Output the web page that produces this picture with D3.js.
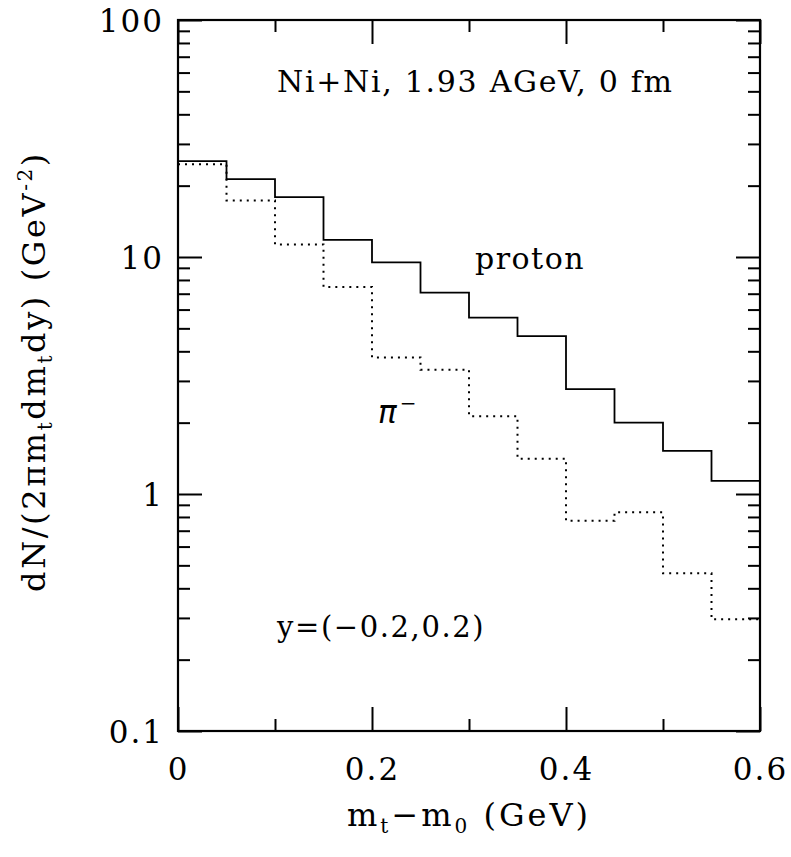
<!DOCTYPE html>
<html>
  <head>
    <meta charset="utf-8" />
    <title>Ni+Ni mt spectra</title>
    <script src="https://d3js.org/d3.v7.min.js"></script>
    <style>
      body { margin: 0; background: #fff; }
      text { font-family: "DejaVu Serif", serif; fill: #000; }
    </style>
  </head>
  <body>
    <svg width="791" height="857"></svg>

    <script>
      // Data: lower edge of each mt-m0 bin (GeV), bin width 0.05
      var binLow = [0, 0.05, 0.1, 0.15, 0.2, 0.25, 0.3, 0.35, 0.4, 0.45, 0.5, 0.55];
      var binWidth = 0.05;
      var proton = [25.4, 21.3, 17.9, 11.8, 9.5, 7.07, 5.55, 4.64, 2.77, 2.0, 1.52, 1.135];
      var pion = [24.6, 17.3, 11.3, 7.47, 3.77, 3.34, 2.13, 1.41, 0.771, 0.837, 0.463, 0.296];

      var xTicks = [0, 0.2, 0.4, 0.6];
      var xMinor = [0.1, 0.3, 0.5];
      var yTicks = [0.1, 1, 10, 100];
      var yTickLabels = ["0.1", "1", "10", "100"];

      var svg = d3.select("svg");

      var margin = { top: 20, right: 31, bottom: 126, left: 178 },
        width = +svg.attr("width") - margin.left - margin.right,
        height = +svg.attr("height") - margin.top - margin.bottom;

      var x = d3.scaleLinear().domain([0, 0.6]).range([0, width]);
      var y = d3.scaleLog().domain([0.1, 100]).range([height, 0]);

      var g = svg.append("g").attr("transform", "translate(" + margin.left + "," + margin.top + ")");

      // minor log ticks 2..9 in each decade
      var yMinor = [];
      [0.1, 1, 10].forEach(function (d) {
        for (var k = 2; k <= 9; k++) yMinor.push(d * k);
      });

      function styleAxis(sel) {
        sel.select(".domain").remove();
        sel.selectAll(".tick line").attr("stroke", "#000").attr("stroke-width", 2);
        sel.selectAll("text").style("font-size", "31px").attr("letter-spacing", "2px");
      }

      // y axis left (labels) + right
      g.append("g")
        .call(d3.axisLeft(y).tickValues(yTicks).tickSize(-24).tickPadding(14)
          .tickFormat(function (d, i) { return yTickLabels[i]; }))
        .call(styleAxis)
        .selectAll("text").attr("dy", "0.36em");
      g.append("g")
        .call(d3.axisLeft(y).tickValues(yMinor).tickSize(-12).tickFormat(""))
        .call(styleAxis);
      g.append("g").attr("transform", "translate(" + width + ",0)")
        .call(d3.axisRight(y).tickValues(yTicks).tickSize(-24).tickFormat(""))
        .call(styleAxis);
      g.append("g").attr("transform", "translate(" + width + ",0)")
        .call(d3.axisRight(y).tickValues(yMinor).tickSize(-12).tickFormat(""))
        .call(styleAxis);

      // x axis bottom (labels) + top
      g.append("g").attr("transform", "translate(0," + height + ")")
        .call(d3.axisBottom(x).tickValues(xTicks).tickSize(-24).tickPadding(27)
          .tickFormat(function (d) { return d === 0 ? "0" : d3.format(".1f")(d); }))
        .call(styleAxis);
      g.append("g").attr("transform", "translate(0," + height + ")")
        .call(d3.axisBottom(x).tickValues(xMinor).tickSize(-12).tickFormat(""))
        .call(styleAxis);
      g.append("g")
        .call(d3.axisTop(x).tickValues(xTicks).tickSize(-24).tickFormat(""))
        .call(styleAxis);
      g.append("g")
        .call(d3.axisTop(x).tickValues(xMinor).tickSize(-12).tickFormat(""))
        .call(styleAxis);

      // frame
      g.append("rect")
        .attr("width", width).attr("height", height)
        .attr("fill", "none").attr("stroke", "#000").attr("stroke-width", 2.2);

      // histograms as step lines
      function steps(vals) {
        var pts = binLow.map(function (b, i) { return [b, vals[i]]; });
        pts.push([binLow[binLow.length - 1] + binWidth, vals[vals.length - 1]]);
        return pts;
      }
      var line = d3.line()
        .x(function (d) { return x(d[0]); })
        .y(function (d) { return y(d[1]); })
        .curve(d3.curveStepAfter);

      g.append("path").datum(steps(proton))
        .attr("d", line).attr("fill", "none")
        .attr("stroke", "#000").attr("stroke-width", 1.8);
      g.append("path").datum(steps(pion))
        .attr("d", line).attr("fill", "none")
        .attr("stroke", "#000").attr("stroke-width", 2)
        .attr("stroke-dasharray", "2,5");

      // annotations
      g.append("text").attr("x", 99).attr("y", 72)
        .style("font-size", "30px").attr("letter-spacing", "1.7px")
        .text("Ni+Ni, 1.93 AGeV, 0 fm");
      g.append("text").attr("x", 297).attr("y", 249)
        .style("font-size", "30px").attr("letter-spacing", "1.5px").text("proton");
      var pi = g.append("text").attr("x", 200).attr("y", 403)
        .style("font-size", "31px");
      pi.append("tspan").style("font-family", "'DejaVu Sans', sans-serif")
        .style("font-style", "italic").text("π");
      pi.append("tspan").attr("dx", 3).attr("dy", "-13").style("font-size", "20px").text("−");
      g.append("text").attr("x", 99).attr("y", 617)
        .style("font-size", "29px").attr("letter-spacing", "1.6px").text("y=(−0.2,0.2)");

      // axis titles
      var xt = svg.append("text")
        .attr("x", margin.left + width / 2).attr("y", 826)
        .attr("text-anchor", "middle").attr("letter-spacing", "3px").style("font-size", "32px");
      xt.append("tspan").text("m");
      xt.append("tspan").attr("dy", 7).style("font-size", "20px").text("t");
      xt.append("tspan").attr("dy", -7).text("−m");
      xt.append("tspan").attr("dy", 7).style("font-size", "20px").text("0");
      xt.append("tspan").attr("dy", -7).text(" (GeV)");

      var yt = svg.append("text")
        .attr("transform", "translate(45," + (margin.top + height / 2 - 4) + ") rotate(-90)")
        .attr("text-anchor", "middle").attr("letter-spacing", "2.6px").style("font-size", "32px");
      yt.append("tspan").text("dN/(2πm");
      yt.append("tspan").attr("dy", 7).style("font-size", "20px").text("t");
      yt.append("tspan").attr("dy", -7).text("dm");
      yt.append("tspan").attr("dy", 7).style("font-size", "20px").text("t");
      yt.append("tspan").attr("dy", -7).text("dy)  (GeV");
      yt.append("tspan").attr("dy", -13).style("font-size", "20px").text("-2");
      yt.append("tspan").attr("dy", 13).text(")");
    </script>
  </body>
</html>
